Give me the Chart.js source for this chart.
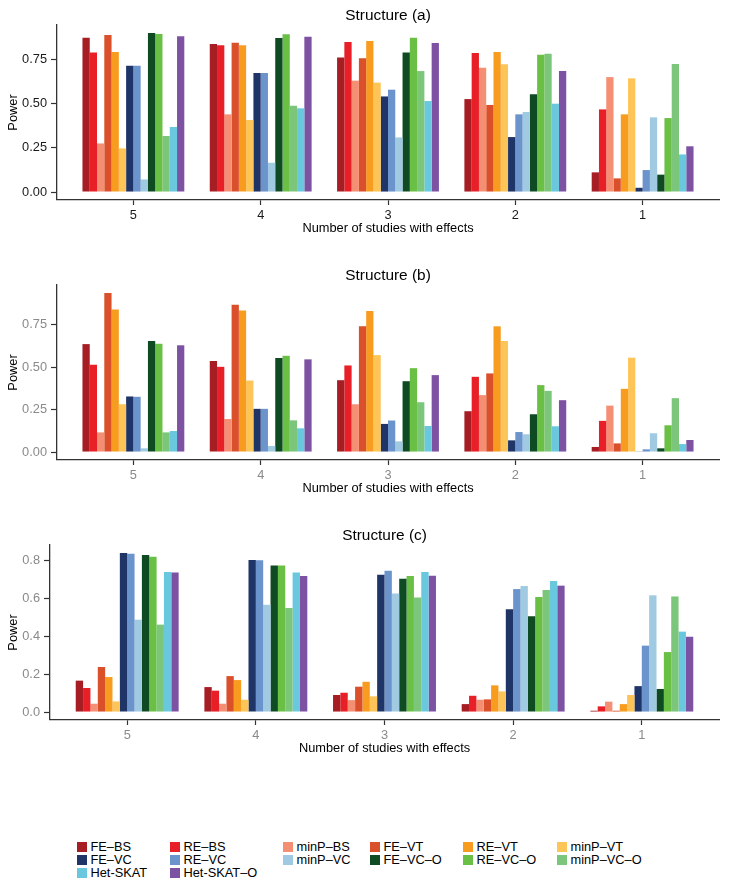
<!DOCTYPE html>
<html lang="en">
<head>
    <meta charset="UTF-8">
    <title>Power by number of studies with effects</title>
    <script src="https://cdn.jsdelivr.net/npm/chart.js"></script>
    <style>
        body { margin: 0; background: #fff; font-family: "Liberation Sans", Arial, sans-serif; }
        #page { position: relative; width: 729px; height: 890px; }
        .panel { position: absolute; left: 0; width: 729px; height: 240px; }
        #legend {
            position: absolute; left: 77px; top: 841px;
            display: grid; grid-template-columns: 93px 113px 87px 93px 94px auto;
            font-size: 12.8px; line-height: 12.8px; color: #000;
        }
        #legend .item { display: flex; align-items: center; white-space: nowrap; }
        #legend .key { width: 10px; height: 10px; margin-right: 3.5px; }
    </style>
</head>
<body>
<div id="page">
    <div class="panel" style="top:0px"><canvas id="chartA" width="729" height="240"></canvas></div>
    <div class="panel" style="top:260px"><canvas id="chartB" width="729" height="240"></canvas></div>
    <div class="panel" style="top:520px"><canvas id="chartC" width="729" height="240"></canvas></div>
    <div id="legend"></div>
</div>

<script>
    // categories: number of studies with effects
    const groups = ['5', '4', '3', '2', '1'];

    const methods = ['FE–BS', 'RE–BS', 'minP–BS', 'FE–VT', 'RE–VT', 'minP–VT',
                     'FE–VC', 'RE–VC', 'minP–VC', 'FE–VC–O', 'RE–VC–O', 'minP–VC–O',
                     'Het-SKAT', 'Het-SKAT–O'];

    const colors = ['#a61d24', '#e81f27', '#f58f73', '#d9502a', '#f89c1f', '#fdc457',
                    '#1f3467', '#6b93cc', '#9fcae2', '#0e4a22', '#6abf45', '#7bc67b',
                    '#69c8de', '#7d52a3'];

    // power per method (rows follow methods), columns follow groups
    const powerA = [
        [0.870, 0.835, 0.758, 0.524, 0.111],
        [0.786, 0.827, 0.846, 0.784, 0.466],
        [0.274, 0.438, 0.628, 0.701, 0.648],
        [0.885, 0.842, 0.754, 0.491, 0.077],
        [0.789, 0.827, 0.852, 0.789, 0.438],
        [0.246, 0.406, 0.617, 0.720, 0.641],
        [0.712, 0.671, 0.539, 0.310, 0.024],
        [0.712, 0.671, 0.577, 0.438, 0.124],
        [0.071, 0.165, 0.308, 0.451, 0.421],
        [0.897, 0.868, 0.786, 0.551, 0.098],
        [0.891, 0.889, 0.870, 0.774, 0.417],
        [0.316, 0.487, 0.682, 0.780, 0.722],
        [0.367, 0.472, 0.513, 0.498, 0.212],
        [0.878, 0.876, 0.840, 0.682, 0.258]
    ];

    const powerB = [
        [0.637, 0.537, 0.424, 0.241, 0.030],
        [0.515, 0.503, 0.511, 0.444, 0.184],
        [0.116, 0.195, 0.282, 0.336, 0.274],
        [0.939, 0.870, 0.742, 0.464, 0.051],
        [0.841, 0.835, 0.833, 0.742, 0.373],
        [0.282, 0.422, 0.572, 0.655, 0.557],
        [0.328, 0.255, 0.166, 0.069, 0.002],
        [0.326, 0.255, 0.186, 0.118, 0.016],
        [0.022, 0.036, 0.063, 0.105, 0.111],
        [0.655, 0.555, 0.418, 0.223, 0.022],
        [0.639, 0.568, 0.495, 0.395, 0.158],
        [0.116, 0.187, 0.294, 0.361, 0.318],
        [0.124, 0.140, 0.154, 0.152, 0.047],
        [0.630, 0.547, 0.454, 0.306, 0.071]
    ];

    const powerC = [
        [0.166, 0.132, 0.090, 0.042, 0.007],
        [0.127, 0.113, 0.102, 0.086, 0.030],
        [0.044, 0.044, 0.063, 0.065, 0.055],
        [0.238, 0.190, 0.134, 0.067, 0.007],
        [0.185, 0.169, 0.160, 0.141, 0.042],
        [0.056, 0.065, 0.083, 0.109, 0.090],
        [0.841, 0.804, 0.726, 0.543, 0.137],
        [0.837, 0.802, 0.747, 0.650, 0.351],
        [0.488, 0.567, 0.626, 0.666, 0.617],
        [0.830, 0.774, 0.705, 0.507, 0.122],
        [0.821, 0.774, 0.719, 0.608, 0.317],
        [0.462, 0.550, 0.606, 0.645, 0.611],
        [0.740, 0.738, 0.740, 0.692, 0.425],
        [0.737, 0.719, 0.721, 0.668, 0.398]
    ];

    const ticksAB = [0, 0.25, 0.5, 0.75];
    const ticksC = [0, 0.2, 0.4, 0.6, 0.8];

    Chart.defaults.font.family = '"Liberation Sans", Arial, sans-serif';

    const axisColor = '#333';

    function makePanel(id, title, power, yTicks, decimals, tickColor, yWidth) {
        // ggplot-style 5% expansion of the data range
        const top = Math.max(...power.flat());

        const datasets = power.map((vals, m) => ({
            label: methods[m],
            data: vals.map((v, i) => ({ x: i, y: v })),
            backgroundColor: colors[m],
            borderWidth: 0,
            categoryPercentage: 0.8,
            barPercentage: 1.0
        }));

        new Chart(document.getElementById(id), {
            type: 'bar',
            data: { datasets: datasets },
            options: {
                responsive: false,
                animation: false,
                layout: { padding: { left: 0, right: 10, top: 0, bottom: 0 } },
                plugins: {
                    legend: { display: false },
                    tooltip: { enabled: false },
                    title: {
                        display: true,
                        text: title,
                        color: '#000',
                        fullSize: false,
                        font: { size: 15.4, weight: 'normal' },
                        padding: { top: 6.5, bottom: 0 }
                    }
                },
                scales: {
                    x: {
                        type: 'linear',
                        offset: false,
                        min: -0.6,
                        max: groups.length - 0.4,
                        afterBuildTicks: s => { s.ticks = groups.map((g, i) => ({ value: i })); },
                        afterFit: s => { s.height = 40; },
                        ticks: {
                            callback: v => groups[v],
                            color: tickColor,
                            font: { size: 12.8 },
                            padding: 3,
                            maxRotation: 0,
                            autoSkip: false
                        },
                        grid: { offset: false, drawOnChartArea: false, drawTicks: true, tickLength: 5, color: axisColor, tickWidth: 1.2 },
                        border: { display: true, color: axisColor, width: 1.3 },
                        title: {
                            display: true,
                            text: 'Number of studies with effects',
                            color: '#000',
                            font: { size: 12.8 },
                            padding: { top: 0, bottom: 4 }
                        }
                    },
                    y: {
                        min: -0.05 * top,
                        max: 1.05 * top,
                        afterBuildTicks: s => { s.ticks = yTicks.map(v => ({ value: v })); },
                        afterFit: s => { s.width = yWidth; },
                        ticks: {
                            callback: v => v.toFixed(decimals),
                            color: tickColor,
                            font: { size: 12.8 },
                            padding: 4
                        },
                        grid: { drawOnChartArea: false, drawTicks: true, tickLength: 6, color: axisColor, tickWidth: 1.2 },
                        border: { display: true, color: axisColor, width: 1.3 },
                        title: {
                            display: true,
                            text: 'Power',
                            color: '#000',
                            font: { size: 12.8 },
                            padding: { top: 6, bottom: 0 }
                        }
                    }
                }
            }
        });
    }

    makePanel('chartA', 'Structure (a)', powerA, ticksAB, 2, '#1a1a1a', 57);
    makePanel('chartB', 'Structure (b)', powerB, ticksAB, 2, '#8a8a8a', 57);
    makePanel('chartC', 'Structure (c)', powerC, ticksC, 1, '#8a8a8a', 50);

    // shared legend, laid out in ggplot's 6-column order
    const legend = document.getElementById('legend');
    methods.forEach((name, m) => {
        const item = document.createElement('div');
        item.className = 'item';
        const key = document.createElement('span');
        key.className = 'key';
        key.style.background = colors[m];
        item.appendChild(key);
        item.appendChild(document.createTextNode(name));
        legend.appendChild(item);
    });
</script>
</body>
</html>
